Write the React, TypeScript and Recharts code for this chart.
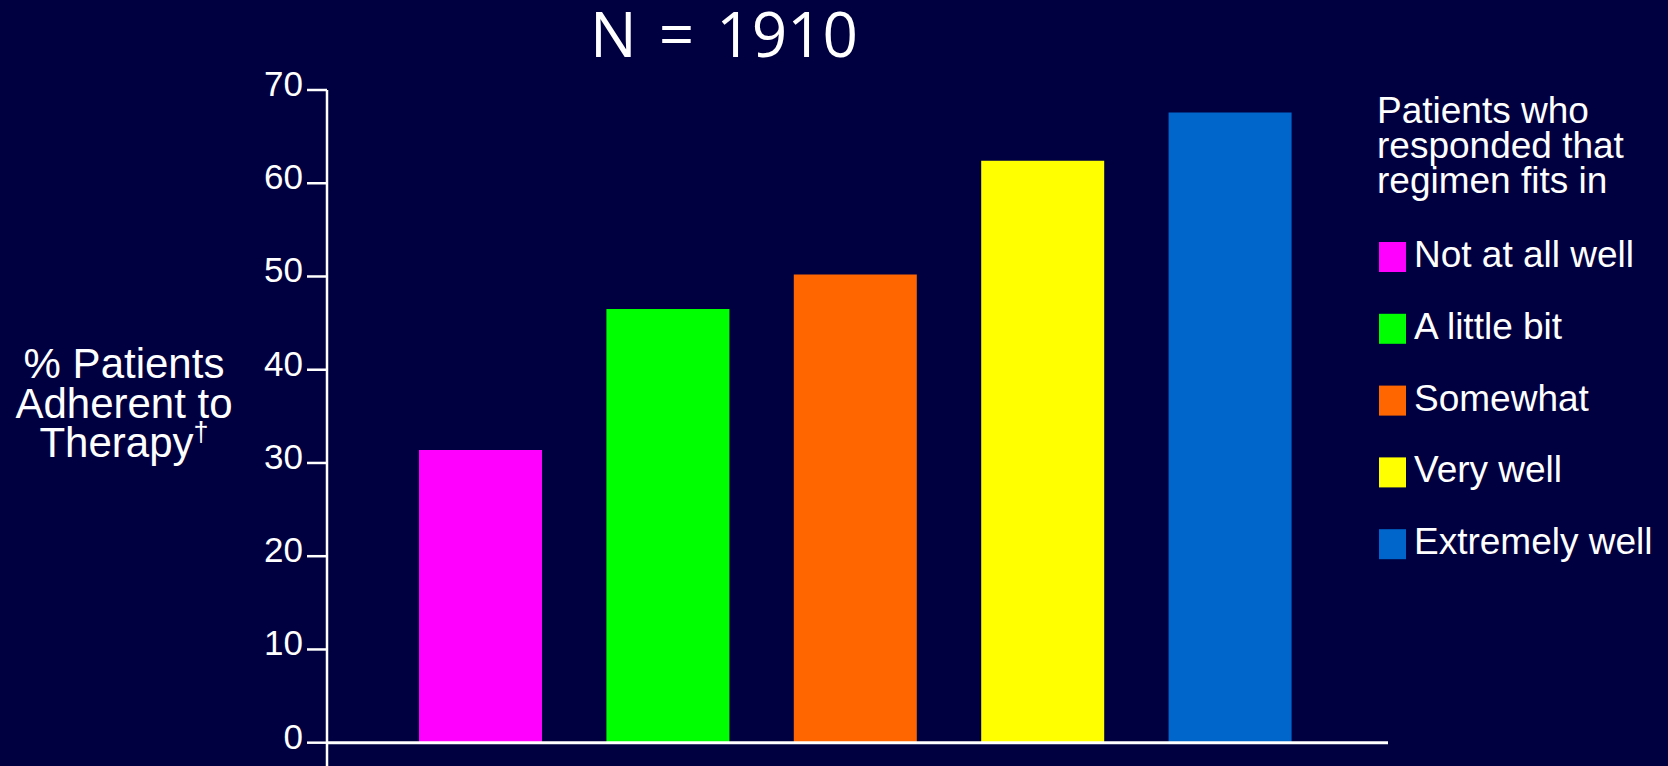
import { BarChart, Bar, XAxis, YAxis, Cell, ReferenceLine, Legend } from "recharts";

const categories = ["Not at all well", "A little bit", "Somewhat", "Very well", "Extremely well"];
const adherence = [31.4, 46.5, 50.2, 62.4, 67.6];
const barColors = ["#ff00ff", "#00ff00", "#ff6600", "#ffff00", "#0066cc"];
const yTicks = [0, 10, 20, 30, 40, 50, 60, 70];
const yLabelLines = ["% Patients", "Adherent to", "Therapy"];
const legendTitle = ["Patients who", "responded that", "regimen fits in"];
const chartTitle = "N = 1910";

const data = categories.map((category, i) => ({ category, value: adherence[i] }));

const bg = "#000040";
const sans = "'Liberation Sans', Arial, sans-serif";

function YTick(props: any) {
  const { x, y, payload } = props;
  return (
    <text x={x} y={y} dy={6} textAnchor="end" fill="#fff" fontSize={35} fontFamily={sans}>
      {payload.value}
    </text>
  );
}

function YLabel(props: any) {
  const vb = props.viewBox || { x: 0, y: 90, width: 327, height: 676 };
  const cx = vb.x + 124;
  const mid = vb.y + vb.height / 2;
  return (
    <text textAnchor="middle" fill="#fff" fontSize={42} fontFamily={sans}>
      <tspan x={cx} y={mid - 50}>{yLabelLines[0]}</tspan>
      <tspan x={cx} y={mid - 10}>{yLabelLines[1]}</tspan>
      <tspan x={cx} y={mid + 29}>
        {yLabelLines[2]}
        <tspan fontSize={27} dy={-16}>†</tspan>
      </tspan>
    </text>
  );
}

function LegendBox() {
  return (
    <svg width={298} height={490} style={{ display: "block" }}>
      <g fill="#fff" fontFamily={sans} fontSize={37}>
        {legendTitle.map((line, i) => (
          <text key={line} x={7} y={43 + i * 35}>
            {line}
          </text>
        ))}
        {categories.map((c, i) => (
          <g key={c}>
            <rect x={9} y={162 + i * 71.8} width={27} height={30} fill={barColors[i]} />
            <text x={44} y={187 + i * 71.8}>
              {c}
            </text>
          </g>
        ))}
      </g>
    </svg>
  );
}

export default function App() {
  return (
    <div style={{ position: "fixed", left: 0, top: 0, width: 1668, height: 766, background: bg, overflow: "hidden" }}>
      <div
        style={{
          position: "absolute",
          left: 0,
          top: 2,
          width: 1448,
          textAlign: "center",
          color: "#fff",
          fontFamily: "'Open Sans', sans-serif",
          fontSize: 62,
          lineHeight: "62px",
          wordSpacing: 6,
        }}
      >
        {chartTitle}
      </div>
      <BarChart width={1668} height={766} data={data} margin={{ top: 90, right: 280, bottom: 0, left: 0 }}>
        <XAxis dataKey="category" hide padding={{ left: 60, right: 64 }} />
        <YAxis
          type="number"
          domain={[-2.5, 70]}
          ticks={yTicks}
          interval={0}
          width={327}
          axisLine={{ stroke: "#fff", strokeWidth: 2.5 }}
          tickLine={{ stroke: "#fff", strokeWidth: 2.5 }}
          tickSize={20}
          tickMargin={4}
          tick={(p: any) => <YTick {...p} />}
          label={(p: any) => <YLabel {...p} />}
        />
        <Bar dataKey="value" barSize={123} isAnimationActive={false}>
          {data.map((d, i) => (
            <Cell key={d.category} fill={barColors[i]} />
          ))}
        </Bar>
        <ReferenceLine y={0} stroke="#fff" strokeWidth={3} />
        <Legend
          layout="vertical"
          align="center"
          verticalAlign="middle"
          wrapperStyle={{ left: 1370, top: 80, width: 298 }}
          content={() => <LegendBox />}
        />
      </BarChart>
    </div>
  );
}
